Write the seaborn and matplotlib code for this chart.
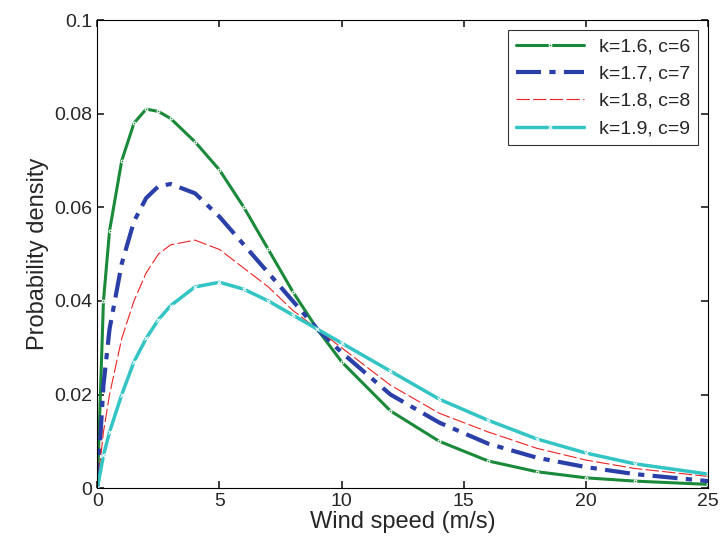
import numpy as np
import pandas as pd
import seaborn as sns
import matplotlib
matplotlib.use("Agg")
import matplotlib.pyplot as plt

sns.set_theme(style="white")
plt.rcParams['font.family'] = ['Liberation Sans', 'DejaVu Sans']

speed = [0, 0.25, 0.5, 1, 1.5, 2, 2.5, 3, 4, 5, 6, 7, 8, 9, 10, 12, 14, 16, 18, 20, 22, 25]
dens_16_6 = [0, 0.040, 0.055, 0.070, 0.078, 0.081, 0.0805, 0.079, 0.074, 0.068, 0.060, 0.051,
             0.042, 0.034, 0.027, 0.0165, 0.010, 0.0058, 0.0035, 0.0022, 0.0015, 0.0008]
dens_17_7 = [0, 0.022, 0.034, 0.048, 0.057, 0.062, 0.0645, 0.065, 0.063, 0.058, 0.052, 0.046,
             0.040, 0.034, 0.029, 0.020, 0.014, 0.0095, 0.0065, 0.0045, 0.003, 0.0015]
dens_18_8 = [0, 0.012, 0.020, 0.032, 0.040, 0.046, 0.050, 0.052, 0.053, 0.051, 0.047, 0.043,
             0.038, 0.034, 0.030, 0.022, 0.016, 0.012, 0.0085, 0.006, 0.0042, 0.0025]
dens_19_9 = [0, 0.007, 0.012, 0.020, 0.027, 0.032, 0.036, 0.039, 0.043, 0.044, 0.0425, 0.040,
             0.037, 0.034, 0.031, 0.025, 0.019, 0.0145, 0.0105, 0.0075, 0.0052, 0.003]
labels = ["k=1.6, c=6", "k=1.7, c=7", "k=1.8, c=8", "k=1.9, c=9"]

fig = plt.figure(figsize=(7.21, 5.46), dpi=100)
ax = fig.add_axes([0.135, 0.106, 0.847, 0.857])

styles = [
    dict(color="#1a8a3a", linewidth=2.2, linestyle="-", marker=".", markersize=4),
    dict(color="#2b3fa8", linewidth=3.0, linestyle=(0, (6, 2, 1.5, 2))),
    dict(color="#ee2222", linewidth=0.8, linestyle=(0, (12, 3))),
    dict(color="#33c4c4", linewidth=2.5, linestyle="-", marker="x", markersize=3),
]
for y, lab, st in zip([dens_16_6, dens_17_7, dens_18_8, dens_19_9], labels, styles):
    sns.lineplot(x=speed, y=y, ax=ax, label=lab, **st)

ax.set_xlim(0, 25)
ax.set_ylim(0, 0.1)
ax.set_xticks([0, 5, 10, 15, 20, 25])
ax.set_yticks([0, 0.02, 0.04, 0.06, 0.08, 0.1])
ax.set_yticklabels(["0", "0.02", "0.04", "0.06", "0.08", "0.1"])
ax.tick_params(labelsize=14, direction="in", length=5, left=True, bottom=True, top=True, right=True)
ax.set_xlabel("Wind speed (m/s)", fontsize=17, labelpad=1)
ax.set_ylabel("Probability density", fontsize=17)
for s in ax.spines.values():
    s.set_color("black")
    s.set_linewidth(0.8)
leg = ax.legend(loc="upper right", fontsize=14, frameon=True, fancybox=False,
                edgecolor="black", handlelength=3.5)
leg.get_frame().set_linewidth(0.8)

fig.savefig("out.png", dpi=100)
